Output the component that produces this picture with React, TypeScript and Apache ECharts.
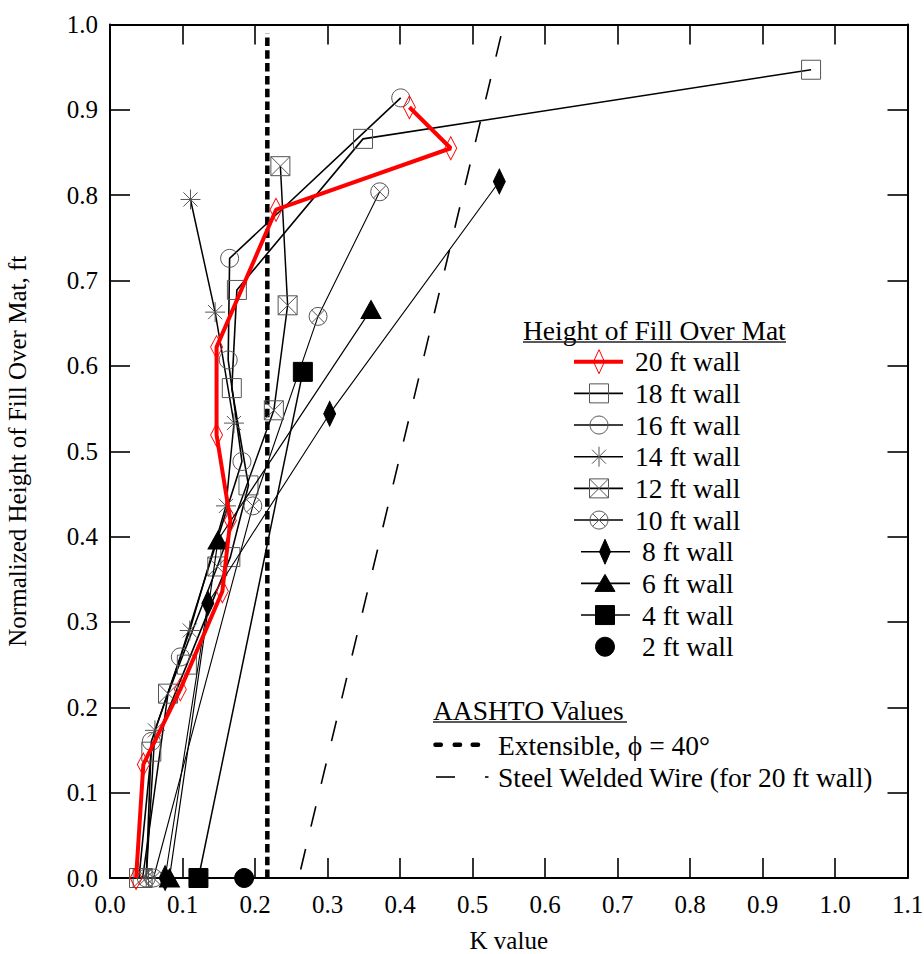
import React, { useEffect, useRef } from "react";
import * as echarts from "echarts";

// ---- data (K value, normalized height) ----
const K20 = [0.036, 0.046, 0.097, 0.155, 0.166, 0.147, 0.147, 0.229, 0.47, 0.413];
const H20 = [0, 0.133, 0.221, 0.336, 0.419, 0.519, 0.622, 0.783, 0.855, 0.903];
const K18 = [0.04, 0.057, 0.106, 0.166, 0.191, 0.168, 0.175, 0.349, 0.967];
const H18 = [0, 0.148, 0.25, 0.376, 0.46, 0.574, 0.689, 0.866, 0.947];
const K16 = [0.05, 0.057, 0.097, 0.182, 0.163, 0.165, 0.401];
const H16 = [0, 0.16, 0.259, 0.488, 0.607, 0.726, 0.914];
const K14 = [0.05, 0.062, 0.11, 0.16, 0.171, 0.145, 0.111];
const H14 = [0, 0.173, 0.29, 0.436, 0.533, 0.663, 0.795];
const K12 = [0.045, 0.08, 0.148, 0.226, 0.245, 0.235];
const H12 = [0, 0.216, 0.365, 0.548, 0.671, 0.834];
const K10 = [0.06, 0.197, 0.287, 0.372];
const H10 = [0, 0.436, 0.658, 0.804];
const K8 = [0.076, 0.135, 0.303, 0.537];
const H8 = [0, 0.322, 0.544, 0.816];
const K6 = [0.082, 0.149, 0.36];
const H6 = [0, 0.396, 0.666];
const K4 = [0.122, 0.266];
const H4 = [0, 0.593];
const K2 = [0.185];
const H2 = [0];

const EXT_K = [0.217, 0.217];
const EXT_H = [0, 0.99];
const WIRE_K = [0.263, 0.543];
const WIRE_H = [0.01, 1.0];

const SERIES_NAMES = [
  "20 ft wall", "18 ft wall", "16 ft wall", "14 ft wall", "12 ft wall",
  "10 ft wall", "8 ft wall", "6 ft wall", "4 ft wall", "2 ft wall",
];
const LEGEND_TITLE = "Height of Fill Over Mat";
const AASHTO_TITLE = "AASHTO Values";
const AASHTO_NAMES = ["Extensible, \u03D5 = 40\u00B0", "Steel Welded Wire (for 20 ft wall)"];
const X_NAME = "K value";
const Y_NAME = "Normalized Height of Fill Over Mat, ft";

const FONT = "Liberation Serif, serif";
const GREY = "#555";

const pairs = (k: number[], h: number[]) => k.map((v, i) => [v, h[i]]);

const SYM_ASTER = "path://M0,-10L0,10M-10,0L10,0M-7.07,-7.07L7.07,7.07M-7.07,7.07L7.07,-7.07";
const SYM_BOXX = "path://M-10,-10L10,-10L10,10L-10,10ZM-10,-10L10,10M10,-10L-10,10";
const SYM_CIRCX =
  "path://M-10,0A10,10,0,1,0,10,0A10,10,0,1,0,-10,0ZM-7.07,-7.07L7.07,7.07M7.07,-7.07L-7.07,7.07";

type Def = {
  k: number[]; h: number[]; kind: string; symbol: string; size: any;
  fill: string; stroke: string; line: string; lw: number; z: number;
};

const DEFS: Def[] = [
  { k: K20, h: H20, kind: "diamondOpen", symbol: "diamond", size: [12, 23], fill: "rgba(0,0,0,0)", stroke: "#ff0000", line: "#ff0000", lw: 4, z: 20 },
  { k: K18, h: H18, kind: "squareOpen", symbol: "rect", size: 19, fill: "rgba(0,0,0,0)", stroke: GREY, line: "#000", lw: 1.6, z: 11 },
  { k: K16, h: H16, kind: "circleOpen", symbol: "circle", size: 18, fill: "rgba(0,0,0,0)", stroke: GREY, line: "#000", lw: 1.6, z: 11 },
  { k: K14, h: H14, kind: "aster", symbol: SYM_ASTER, size: 20, fill: "rgba(0,0,0,0)", stroke: GREY, line: "#000", lw: 1.5, z: 11 },
  { k: K12, h: H12, kind: "boxx", symbol: SYM_BOXX, size: 19, fill: "rgba(0,0,0,0)", stroke: GREY, line: "#000", lw: 1.5, z: 11 },
  { k: K10, h: H10, kind: "circx", symbol: SYM_CIRCX, size: 18, fill: "rgba(0,0,0,0)", stroke: GREY, line: "#000", lw: 1.1, z: 11 },
  { k: K8, h: H8, kind: "diamond", symbol: "diamond", size: [12, 25], fill: "#000", stroke: "#000", line: "#000", lw: 1.1, z: 12 },
  { k: K6, h: H6, kind: "triangle", symbol: "triangle", size: [20, 18], fill: "#000", stroke: "#000", line: "#000", lw: 1.2, z: 12 },
  { k: K4, h: H4, kind: "square", symbol: "rect", size: 19, fill: "#000", stroke: "#000", line: "#000", lw: 1.5, z: 12 },
  { k: K2, h: H2, kind: "circle", symbol: "circle", size: 19, fill: "#000", stroke: "#000", line: "#000", lw: 1.5, z: 12 },
];

function markerEls(kind: string, cx: number, cy: number): any[] {
  const open = { fill: "none", stroke: GREY, lineWidth: 1 };
  const solid = { fill: "#000", stroke: "#000", lineWidth: 1 };
  const ln = (x1: number, y1: number, x2: number, y2: number) => ({
    type: "line", z: 102, shape: { x1, y1, x2, y2 }, style: { stroke: GREY, lineWidth: 1 },
  });
  switch (kind) {
    case "diamondOpen":
      return [{ type: "polygon", z: 102, shape: { points: [[cx, cy - 12], [cx + 5.5, cy], [cx, cy + 12], [cx - 5.5, cy]] }, style: { fill: "none", stroke: "#ff0000", lineWidth: 1 } }];
    case "squareOpen":
      return [{ type: "rect", z: 102, shape: { x: cx - 9.5, y: cy - 9.5, width: 19, height: 19 }, style: open }];
    case "circleOpen":
      return [{ type: "circle", z: 102, shape: { cx, cy, r: 9 }, style: open }];
    case "aster":
      return [ln(cx, cy - 10, cx, cy + 10), ln(cx - 7, cy - 7, cx + 7, cy + 7), ln(cx - 7, cy + 7, cx + 7, cy - 7)];
    case "boxx":
      return [
        { type: "rect", z: 102, shape: { x: cx - 9.5, y: cy - 9.5, width: 19, height: 19 }, style: open },
        ln(cx - 9.5, cy - 9.5, cx + 9.5, cy + 9.5), ln(cx + 9.5, cy - 9.5, cx - 9.5, cy + 9.5),
      ];
    case "circx":
      return [
        { type: "circle", z: 102, shape: { cx, cy, r: 9 }, style: open },
        ln(cx - 6.4, cy - 6.4, cx + 6.4, cy + 6.4), ln(cx + 6.4, cy - 6.4, cx - 6.4, cy + 6.4),
      ];
    case "diamond":
      return [{ type: "polygon", z: 102, shape: { points: [[cx, cy - 12.5], [cx + 5.5, cy], [cx, cy + 12.5], [cx - 5.5, cy]] }, style: solid }];
    case "triangle":
      return [{ type: "polygon", z: 102, shape: { points: [[cx, cy - 9], [cx + 10, cy + 8], [cx - 10, cy + 8]] }, style: solid }];
    case "square":
      return [{ type: "rect", z: 102, shape: { x: cx - 9.5, y: cy - 9.5, width: 19, height: 19 }, style: solid }];
    default:
      return [{ type: "circle", z: 102, shape: { cx, cy, r: 9.5 }, style: solid }];
  }
}

function text(x: number, y: number, t: string, size: number) {
  return {
    type: "text", x, y, z: 103,
    style: { text: t, fontSize: size, fontFamily: FONT, fill: "#000", verticalAlign: "middle" },
  };
}

function buildGraphic(): any[] {
  const els: any[] = [];
  els.push(text(523, 330, LEGEND_TITLE, 27.5));
  els.push({ type: "line", z: 103, shape: { x1: 523, y1: 342, x2: 786, y2: 342 }, style: { stroke: "#222", lineWidth: 1.5 } });
  DEFS.forEach((d, i) => {
    const cy = 361.7 + i * 31.67;
    const grp2 = i >= 6;
    const x0 = grp2 ? 581 : 574;
    const x1 = grp2 ? 630 : 623;
    const mx = grp2 ? 605 : 599;
    const tx = grp2 ? 642 : 635;
    if (i < 9) {
      els.push({ type: "line", z: 101, shape: { x1: x0, y1: cy, x2: x1, y2: cy }, style: { stroke: d.line, lineWidth: i === 0 ? 4 : 1.6 } });
    }
    markerEls(d.kind, mx, cy).forEach((e) => els.push(e));
    els.push(text(tx, cy, SERIES_NAMES[i], 27.5));
  });
  els.push(text(433, 710.5, AASHTO_TITLE, 27.5));
  els.push({ type: "line", z: 103, shape: { x1: 433, y1: 722, x2: 627, y2: 722 }, style: { stroke: "#222", lineWidth: 1.5 } });
  [433.3, 452.5, 470.5].forEach((x) => {
    els.push({ type: "rect", z: 103, shape: { x, y: 742.5, width: 9.7, height: 4.5, r: 2 }, style: { fill: "#000" } });
  });
  els.push(text(498, 745, AASHTO_NAMES[0], 27.5));
  els.push({ type: "line", z: 103, shape: { x1: 436, y1: 777, x2: 455, y2: 777 }, style: { stroke: "#000", lineWidth: 1.6 } });
  els.push({ type: "line", z: 103, shape: { x1: 485, y1: 777, x2: 488.5, y2: 777 }, style: { stroke: "#000", lineWidth: 1.6 } });
  els.push(text(498, 777, AASHTO_NAMES[1], 27.5));
  return els;
}

export default function App() {
  const ref = useRef<HTMLDivElement>(null);
  useEffect(() => {
    document.body.style.margin = "0";
    if (!ref.current) return;
    const chart = echarts.init(ref.current, undefined, { renderer: "svg" });
    const axisCommon = {
      type: "value",
      axisLine: { show: true, onZero: false, lineStyle: { color: "#000", width: 2 } },
      axisTick: { show: true, inside: true, length: 20, lineStyle: { color: "#000", width: 1.6 } },
      splitLine: { show: false },
      minorTick: { show: false },
    };
    const labelStyle = { fontFamily: FONT, fontSize: 25, color: "#000", formatter: (v: number) => v.toFixed(1) };
    const series: any[] = [
      {
        type: "line", data: pairs(EXT_K, EXT_H), symbol: "none", clip: false, z: 5, silent: true,
        lineStyle: { color: "#000", width: 4.5, type: [8.5, 4.3] },
      },
      {
        type: "line", data: pairs(WIRE_K, WIRE_H), symbol: "none", clip: false, z: 5, silent: true,
        lineStyle: { color: "#000", width: 1.6, type: [21, 23] },
      },
    ];
    DEFS.forEach((d, i) => {
      series.push({
        type: "line", name: SERIES_NAMES[i], data: pairs(d.k, d.h), symbol: d.symbol, symbolSize: d.size,
        showAllSymbol: true, clip: false, z: d.z, silent: true,
        lineStyle: { color: d.line, width: d.lw },
        itemStyle: { color: d.fill, borderColor: d.stroke, borderWidth: 1 },
      });
    });
    chart.setOption({
      animation: false,
      backgroundColor: "#fff",
      textStyle: { fontFamily: FONT },
      grid: { left: 110, right: 16.5, top: 24.5, bottom: 76, containLabel: false, outerBoundsMode: "none" },
      xAxis: [
        {
          ...axisCommon, min: 0, max: 1.1, interval: 0.1, position: "bottom",
          axisLabel: { ...labelStyle, margin: 14 },
          name: X_NAME, nameLocation: "middle", nameGap: 50,
          nameTextStyle: { fontFamily: FONT, fontSize: 25, color: "#000" },
        },
        { ...axisCommon, min: 0, max: 1.1, interval: 0.1, position: "top", axisLabel: { show: false } },
      ],
      yAxis: [
        {
          ...axisCommon, min: 0, max: 1.0, interval: 0.1, position: "left",
          axisLabel: { ...labelStyle, margin: 12 },
          name: Y_NAME, nameLocation: "middle", nameGap: 80,
          nameTextStyle: { fontFamily: FONT, fontSize: 25, color: "#000" },
        },
        { ...axisCommon, min: 0, max: 1.0, interval: 0.1, position: "right", axisLabel: { show: false } },
      ],
      series,
      graphic: buildGraphic(),
    });
    return () => chart.dispose();
  }, []);
  return <div ref={ref} style={{ width: 924, height: 954 }} />;
}
